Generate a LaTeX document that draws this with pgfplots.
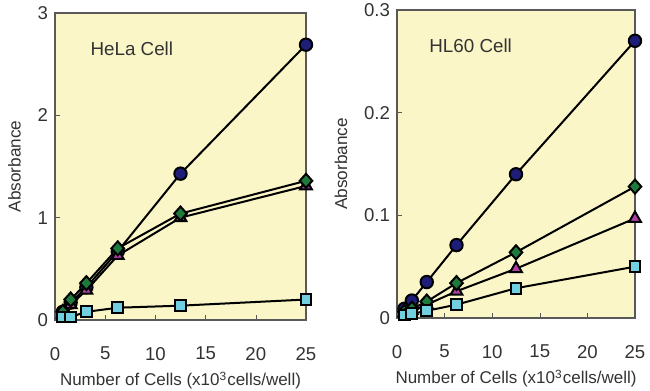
\documentclass[border=0pt]{standalone}
\usepackage{pgfplots}
\pgfplotsset{compat=1.18}
\usepackage{fontspec}
\setmainfont{Liberation Sans}
\definecolor{bg}{HTML}{FAF6C8}
\definecolor{cnavy}{HTML}{1E1E78}
\definecolor{cgreen}{HTML}{1E7A3C}
\definecolor{cmag}{HTML}{B040A8}
\definecolor{ccyan}{HTML}{70D0E0}
\definecolor{txt}{HTML}{333333}
\tikzset{ann/.style={anchor=west, inner sep=0pt, font=\fontsize{9.4}{11}\selectfont, text=txt}}
\pgfplotsset{
  panel/.style={
    scale only axis,
    axis background/.style={fill=bg},
    axis line style={draw=gray!70!black, line width=0.6pt},
    xmin=0, xmax=25,
    xtick={0,5,10,15,20,25},
    tick pos=left,
    major tick length=2.5pt,
    tick style={draw=gray!70!black},
    tick label style={font=\fontsize{9.3}{11}\selectfont, text=txt},
    /pgf/number format/assume math mode=true,
    xticklabel shift=10pt,
    xlabel style={font=\fontsize{8.5}{10}\selectfont, text=txt, yshift=1pt},
    ylabel style={font=\fontsize{8.6}{10}\selectfont, text=txt, yshift=1.5pt},
    xlabel={Number of Cells (x10\textsuperscript{3}cells/well)},
    ylabel={Absorbance},
    every axis plot/.append style={black, line width=1pt, mark options={draw=black, line width=0.5pt}},
  },
  circ/.style={mark=*, mark size=3.1pt, mark options={fill=cnavy}},
  diam/.style={mark=diamond*, mark size=3.5pt, mark options={fill=cgreen, xscale=1.2}},
  tri/.style={mark=triangle*, mark size=3.4pt, mark options={fill=cmag}},
  sq/.style={mark=square*, mark size=2.7pt, mark options={fill=ccyan}},
}
\begin{document}
\begin{tikzpicture}
\path[use as bounding box] (0,0) rectangle (325pt,195.5pt);
\begin{axis}[panel, at={(27.5pt,35.5pt)}, anchor=south west,
  width=125.5pt, height=153.5pt,
  ymin=0, ymax=3, ytick={0,1,2,3}]
\addplot[circ] coordinates {(0.78,0.08) (1.56,0.17) (3.125,0.32) (6.25,0.67) (12.5,1.43) (25,2.69)};
\addplot[tri] coordinates {(0.78,0.06) (1.56,0.15) (3.125,0.29) (6.25,0.63) (12.5,1.00) (25,1.31)};
\addplot[diam] coordinates {(0.78,0.08) (1.56,0.20) (3.125,0.36) (6.25,0.70) (12.5,1.04) (25,1.36)};
\addplot[sq] coordinates {(0.78,0.03) (1.56,0.03) (3.125,0.08) (6.25,0.12) (12.5,0.14) (25,0.20)};
\node[ann] at (axis cs:3.5,2.65) {HeLa Cell};
\end{axis}
\begin{axis}[panel, at={(198.5pt,36.5pt)}, anchor=south west,
  width=119pt, height=154pt,
  ymin=0, ymax=0.3, ytick={0,0.1,0.2,0.3},
  yticklabel style={/pgf/number format/.cd, fixed, precision=1}]
\addplot[circ] coordinates {(0.78,0.009) (1.56,0.017) (3.125,0.035) (6.25,0.071) (12.5,0.140) (25,0.270)};
\addplot[tri] coordinates {(0.78,0.005) (1.56,0.007) (3.125,0.013) (6.25,0.026) (12.5,0.048) (25,0.097)};
\addplot[diam] coordinates {(0.78,0.006) (1.56,0.009) (3.125,0.016) (6.25,0.034) (12.5,0.064) (25,0.128)};
\addplot[sq] coordinates {(0.78,0.003) (1.56,0.004) (3.125,0.007) (6.25,0.013) (12.5,0.029) (25,0.050)};
\node[ann] at (axis cs:3.36,0.265) {HL60 Cell};
\end{axis}
\end{tikzpicture}
\end{document}
